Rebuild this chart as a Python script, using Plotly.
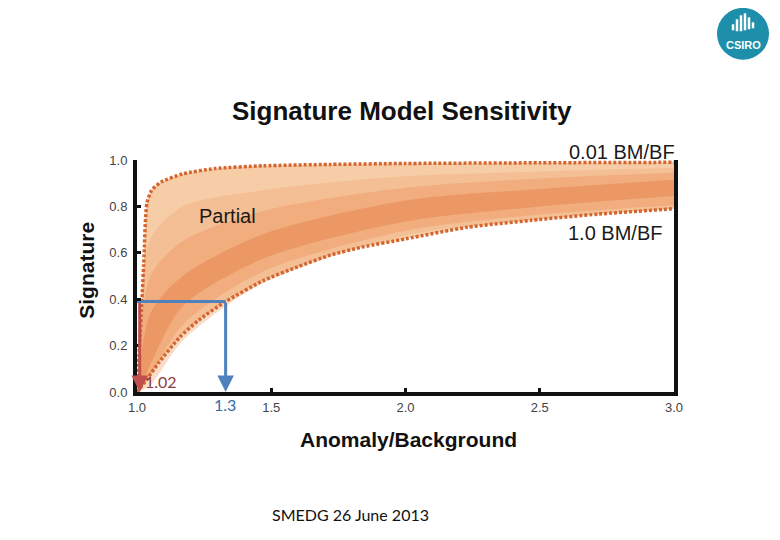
import plotly.graph_objects as go

# ---------------- data ----------------
# Upper envelope: 0.01 BM/BF
upper_x = [1.0, 1.012, 1.025, 1.037, 1.055, 1.09, 1.17, 1.29, 1.47, 1.72, 2.0, 2.5, 3.0]
upper_y = [0.0, 0.25, 0.55, 0.815, 0.87, 0.905, 0.94, 0.963, 0.975, 0.981, 0.985, 0.988, 0.99]
# Lower envelope: 1.0 BM/BF
lower_x = [1.0, 1.04, 1.08, 1.16, 1.23, 1.33, 1.47, 1.6, 1.72, 1.84, 2.0, 2.23, 2.47, 2.72, 3.0]
lower_y = [0.0, 0.06, 0.125, 0.237, 0.31, 0.39, 0.48, 0.54, 0.59, 0.625, 0.66, 0.71, 0.74, 0.767, 0.79]
# Intermediate shading bands (darker towards the centre)
band_x = [1.005, 1.05, 1.17, 1.47, 2.0, 2.5, 3.0]
outer_hi = [0.15, 0.66, 0.80, 0.87, 0.93, 0.95, 0.965]
outer_lo = [0.0, 0.03, 0.22, 0.47, 0.675, 0.745, 0.79]
mid_hi = [0.10, 0.50, 0.65, 0.78, 0.88, 0.92, 0.945]
mid_lo = [0.0, 0.07, 0.29, 0.52, 0.695, 0.765, 0.805]
core_hi = [0.05, 0.34, 0.50, 0.68, 0.825, 0.875, 0.915]
core_lo = [0.0, 0.12, 0.37, 0.575, 0.735, 0.80, 0.845]

# Worked example
signature_level = 0.39
anomaly_full = 1.01      # labelled 1.02
anomaly_partial = 1.33   # labelled 1.3
label_full = "1.02"
label_partial = "1.3"

x_ticks = [1.0, 1.5, 2.0, 2.5, 3.0]
x_tick_text = ["1.0", "1.5", "2.0", "2.5", "3.0"]
y_ticks = [0.0, 0.2, 0.4, 0.6, 0.8, 1.0]
y_tick_text = ["0.0", "0.2", "0.4", "0.6", "0.8", "1.0"]

# ---------------- layout geometry (page pixels; page has 8px body margin) ----------------
OFF = 8
W, H = 780 - OFF, 540 - OFF
L, R, T, B = 137, 674, 160, 392.5


def px(x):
    return (x - L) / (R - L)


def py(y):
    return (B - y) / (B - T)


FONT = "Liberation Sans, Arial, sans-serif"
CAL = "Lato, Carlito, sans-serif"
DOT = "#D4652F"

fig = go.Figure()


def band(xs, lo, hi, color, sm):
    fig.add_trace(go.Scatter(x=xs, y=lo, mode="lines", line=dict(width=0, shape="spline", smoothing=sm),
                             hoverinfo="skip", showlegend=False))
    fig.add_trace(go.Scatter(x=xs, y=hi, mode="lines", line=dict(width=0, shape="spline", smoothing=sm),
                             fill="tonexty", fillcolor=color, hoverinfo="skip", showlegend=False))


# shaded bands
fig.add_trace(go.Scatter(x=lower_x, y=lower_y, mode="lines", line=dict(width=0, shape="spline", smoothing=0.6),
                         hoverinfo="skip", showlegend=False))
fig.add_trace(go.Scatter(x=upper_x, y=upper_y, mode="lines", line=dict(width=0, shape="spline", smoothing=0.6),
                         fill="tonexty", fillcolor="#F7CDA7", hoverinfo="skip", showlegend=False))
band(band_x, outer_lo, outer_hi, "rgba(241,170,120,0.4)", 0.8)
band(band_x, mid_lo, mid_hi, "rgba(237,150,98,0.45)", 0.8)
band(band_x, core_lo, core_hi, "rgba(232,134,82,0.55)", 0.8)

# dotted envelopes
fig.add_trace(go.Scatter(x=upper_x, y=upper_y, mode="lines",
                         line=dict(color=DOT, width=3.5, dash="3px,2px", shape="spline", smoothing=0.6),
                         hoverinfo="skip", showlegend=False))
fig.add_trace(go.Scatter(x=lower_x, y=lower_y, mode="lines",
                         line=dict(color=DOT, width=3.5, dash="3px,2px", shape="spline", smoothing=0.6),
                         hoverinfo="skip", showlegend=False))

# blue horizontal guide
fig.add_trace(go.Scatter(x=[1.0, anomaly_partial], y=[signature_level, signature_level], mode="lines",
                         line=dict(color="#4F81BD", width=3), hoverinfo="skip", showlegend=False))


def label(xp, yp, text, size, color, family=FONT, xanchor="center", angle=0):
    return dict(x=px(xp), y=py(yp), xref="paper", yref="paper", text=text, showarrow=False,
                xanchor=xanchor, yanchor="middle", textangle=angle,
                font=dict(family=family, size=size, color=color))


annotations = [
    # arrows
    dict(x=anomaly_partial, y=0.0, ax=anomaly_partial, ay=signature_level, xref="x", yref="y",
         axref="x", ayref="y", text="", showarrow=True, arrowhead=2, arrowsize=1.1, arrowwidth=3,
         arrowcolor="#4F81BD", standoff=0),
    dict(x=anomaly_full, y=0.0, ax=anomaly_full, ay=signature_level, xref="x", yref="y",
         axref="x", ayref="y", text="", showarrow=True, arrowhead=2, arrowsize=1.1, arrowwidth=3,
         arrowcolor="#C0504D", standoff=0),
    # value labels
    label(161, 382, label_full, 16, "#8E3B3B", CAL),
    label(225, 405, label_partial, 16, "#2F6EA5", CAL),
    # curve labels
    label(677, 152, "0.01 BM/BF", 20, "#1a1a1a", xanchor="right"),
    label(664, 233, "1.0 BM/BF", 20, "#1a1a1a", xanchor="right"),
    label(227, 216, "Partial", 20, "#1a1a1a"),
    # titles
    label(402, 111, "<b>Signature Model Sensitivity</b>", 26, "#111"),
    label(87, 271, "<b>Signature</b>", 21, "#111", angle=-90),
    label(408, 440, "<b>Anomaly/Background</b>", 21, "#111"),
    label(350, 515, "SMEDG 26 June 2013", 16, "#111", CAL),
    # logo text
    label(743, 45, "<b>CSIRO</b>", 11, "white"),
]

shapes = [
    dict(type="circle", xref="paper", yref="paper", x0=px(717), x1=px(769), y0=py(59.5), y1=py(7.5),
         fillcolor="#1E8FAA", line=dict(width=0), layer="above"),
]
# logo bars (decorative)
for bx, top, bot in [(733, 24, 30), (737, 19, 31), (741, 15, 31), (745, 13, 30), (749, 17, 29), (753, 22, 28)]:
    shapes.append(dict(type="line", xref="paper", yref="paper", x0=px(bx), x1=px(bx), y0=py(top), y1=py(bot),
                       line=dict(color="white", width=2.5), layer="above"))

fig.update_layout(
    width=W, height=H,
    margin=dict(l=L - OFF, r=W - (R - OFF), t=T - OFF, b=H - (B - OFF), pad=0),
    paper_bgcolor="white", plot_bgcolor="white",
    showlegend=False,
    annotations=annotations,
    shapes=shapes,
    xaxis=dict(range=[1.0, 3.0], tickvals=x_ticks, ticktext=x_tick_text, showgrid=False, zeroline=False,
               showline=True, linecolor="#111", linewidth=4, mirror=False,
               ticks="inside", ticklen=4, tickwidth=3, tickcolor="#111",
               tickfont=dict(family=FONT, size=13, color="#444")),
    yaxis=dict(range=[0.0, 1.0], tickvals=y_ticks, ticktext=y_tick_text, showgrid=False, zeroline=False,
               showline=True, linecolor="#111", linewidth=4, mirror=True,
               ticks="inside", ticklen=4, tickwidth=3, tickcolor="#111", ticklabelstandoff=3,
               tickfont=dict(family=FONT, size=13, color="#444")),
)

fig.write_html("out.html")
